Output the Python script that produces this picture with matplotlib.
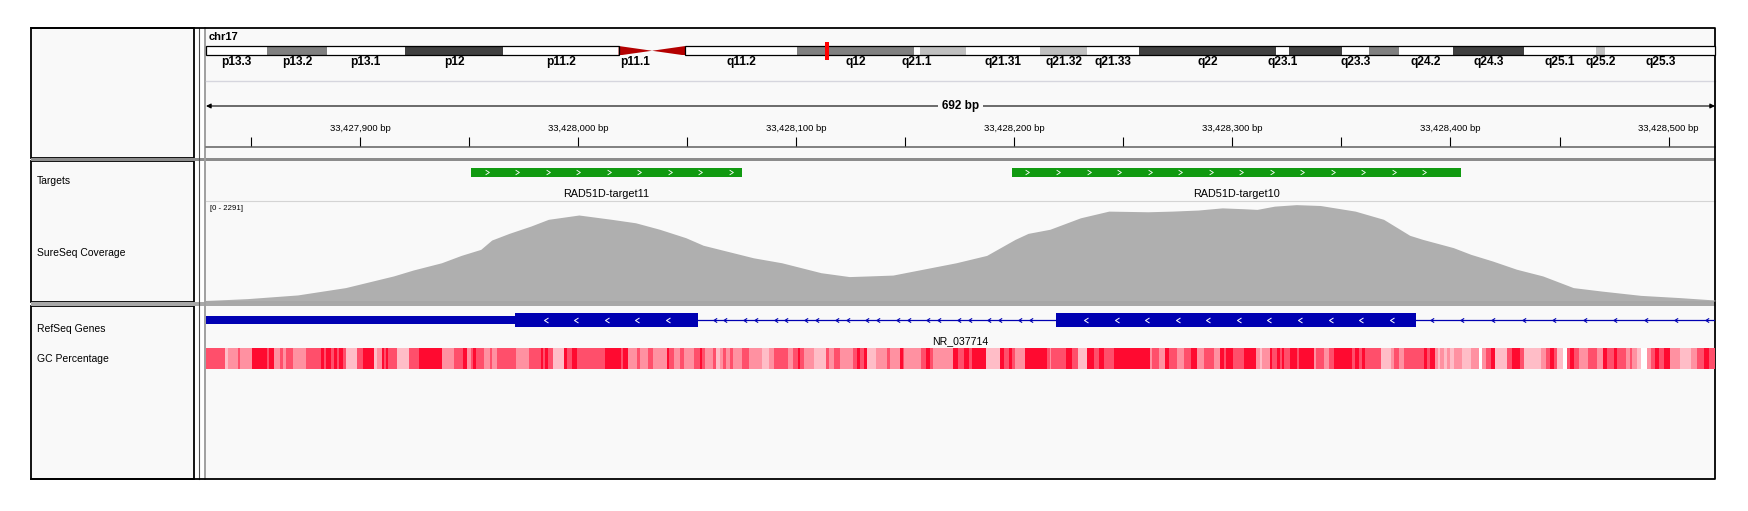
import matplotlib
matplotlib.use("Agg")
import matplotlib.pyplot as plt
import numpy as np
from matplotlib.colors import LinearSegmentedColormap, Normalize
from matplotlib.patches import Rectangle, Polygon
from matplotlib.path import Path
from matplotlib.transforms import blended_transform_factory

plt.rcParams["font.family"] = ["Liberation Sans", "DejaVu Sans"]

W, H = 1749, 511

# current view
CHROM = "chr17"
START = 33427829.3
END = 33428521.3
CHROM_LEN = 81195210

# chr17 cytobands (Mb)
band_names = ["p13.3", "p13.2", "p13.1", "p12", "p11.2", "p11.1", "q11.1", "q11.2",
              "q12", "q21.1", "q21.2", "q21.31", "q21.32", "q21.33", "q22", "q23.1",
              "q23.2", "q23.3", "q24.1", "q24.2", "q24.3", "q25.1", "q25.2", "q25.3"]
band_start = [0, 3.3, 6.5, 10.7, 16.0, 22.2, 24.0, 25.8, 31.8, 38.1, 38.4, 40.9,
              44.9, 47.4, 50.2, 57.6, 58.3, 61.1, 62.6, 64.2, 67.1, 70.9, 74.8, 75.3]
band_end = [3.3, 6.5, 10.7, 16.0, 22.2, 24.0, 25.8, 31.8, 38.1, 38.4, 40.9, 44.9,
            47.4, 50.2, 57.6, 58.3, 61.1, 62.6, 64.2, 67.1, 70.9, 74.8, 75.3, 81.195]
band_stain = ["gneg", "gpos50", "gneg", "gpos75", "gneg", "acen", "acen", "gneg",
              "gpos50", "gneg", "gpos25", "gneg", "gpos25", "gneg", "gpos75", "gneg",
              "gpos75", "gneg", "gpos50", "gneg", "gpos75", "gneg", "gpos25", "gneg"]
band_hidden_labels = ["q11.1", "q21.2", "q23.2", "q24.1"]

# targets
target_names = ["RAD51D-target11", "RAD51D-target10"]
target_start = [33427951, 33428199]
target_end = [33428075, 33428405]

# coverage (offset from view start in bp, read depth)
COV_MAX = 2291
cov_offset = [0, 2, 19, 42, 64, 86, 95, 108, 117, 126,
              131, 139, 149, 157, 171, 186, 197, 208, 220, 228,
              251, 264, 282, 295, 304, 315, 344, 358, 371, 377,
              387, 401, 414, 432, 443, 455, 466, 476, 482, 490,
              500, 511, 527, 540, 552, 558, 572, 580, 590, 601,
              613, 627, 640, 658, 676, 692]
cov_depth = [12, 16, 55, 140, 310, 580, 717, 885, 1055, 1195,
             1410, 1565, 1735, 1890, 1990, 1890, 1810, 1660, 1465, 1290,
             1000, 885, 655, 565, 580, 600, 885, 1055, 1425, 1565,
             1660, 1925, 2080, 2065, 2080, 2105, 2155, 2135, 2120, 2195,
             2230, 2210, 2080, 1890, 1520, 1425, 1235, 1080, 925, 735,
             580, 310, 230, 130, 78, 23]

# RefSeq gene
gene_name = "NR_037714"
gene_start, gene_end = 33427600, 33428700
block_start = [33427600, 33427971, 33428219]
block_end = [33427971, 33428055, 33428384]
block_kind = ["utr", "exon", "exon"]

# GC percentage (segment start offset in bp, percent; 0 = no data)
gc_offset = [0, 8.7, 10.2, 14.8, 15.6, 20.9, 27.8, 29.0, 31.2, 33.9,
             35.5, 36.7, 39.8, 45.9, 52.6, 54.1, 55.0, 57.2, 58.7, 59.9,
             61.2, 63.0, 64.2, 69.1, 72.2, 77.1, 78.3, 80.6, 81.7, 82.6,
             83.6, 87.5, 93.3, 97.9, 108.1, 113.8, 118.0, 119.6, 121.4, 122.3,
             123.9, 127.5, 130.3, 131.0, 133.3, 142.2, 147.9, 153.5, 154.4, 155.5,
             157.0, 159.3, 164.2, 165.4, 167.7, 170.0, 183.0, 190.2, 191.1, 193.7,
             197.6, 199.1, 202.9, 205.2, 211.3, 212.5, 214.4, 217.4, 219.0, 223.6,
             226.6, 227.4, 228.9, 232.7, 234.0, 235.5, 237.3, 238.5, 240.1, 241.6,
             245.7, 249.2, 254.9, 258.0, 260.6, 267.1, 269.1, 271.3, 272.2, 274.3,
             278.9, 284.4, 285.9, 288.1, 290.8, 296.6, 298.5, 300.0, 301.8, 303.1,
             307.3, 312.2, 313.8, 318.1, 319.6, 320.3, 328.0, 330.3, 332.1, 333.3,
             342.5, 344.7, 347.4, 349.7, 351.2, 357.8, 363.9, 365.8, 368.1, 369.6,
             371.1, 375.7, 385.6, 386.9, 387.5, 394.2, 397.1, 399.7, 404.0, 407.0,
             409.3, 411.6, 416.5, 432.7, 433.8, 436.9, 439.9, 441.4, 445.3, 448.3,
             451.7, 454.4, 457.5, 462.1, 464.9, 466.7, 467.9, 471.0, 475.9, 481.7,
             483.2, 484.3, 488.1, 488.9, 491.2, 492.7, 493.5, 494.5, 497.0, 500.4,
             501.1, 508.0, 509.2, 512.6, 514.9, 517.5, 525.6, 527.1, 528.6, 530.2,
             531.7, 538.9, 543.2, 545.0, 547.0, 549.6, 558.5, 560.0, 561.5, 563.4,
             564.9, 566.1, 567.6, 569.2, 570.4, 572.2, 576.0, 579.9, 583.7, 585.2,
             587.2, 589.3, 590.9, 596.7, 599.0, 602.5, 604.3, 612.0, 614.3, 616.3,
             618.1, 619.6, 622.4, 624.2, 625.7, 627.3, 629.6, 633.7, 638.0, 640.7,
             642.6, 645.6, 647.1, 651.0, 653.0, 654.0, 656.3, 658.2, 660.6, 662.7,
             664.7, 666.3, 668.6, 671.3, 675.9, 680.8, 683.8, 686.9, 689.2]
gc_pct = [63, 39, 51, 63, 51, 76, 63, 76, 51, 63,
          51, 63, 51, 63, 76, 63, 76, 63, 76, 63,
          76, 63, 39, 63, 76, 39, 51, 76, 63, 76,
          63, 39, 63, 76, 51, 63, 76, 51, 63, 76,
          63, 51, 63, 51, 63, 51, 63, 76, 63, 76,
          63, 39, 76, 63, 76, 63, 76, 63, 76, 51,
          63, 51, 63, 51, 76, 63, 51, 63, 51, 63,
          76, 63, 51, 63, 39, 51, 63, 51, 63, 51,
          63, 51, 39, 51, 63, 51, 63, 76, 63, 51,
          39, 63, 51, 63, 51, 63, 76, 63, 76, 39,
          51, 63, 51, 76, 63, 51, 63, 76, 63, 51,
          76, 63, 76, 63, 76, 39, 76, 63, 76, 63,
          51, 76, 63, 51, 63, 76, 63, 39, 76, 63,
          76, 63, 76, 51, 63, 51, 76, 63, 51, 63,
          76, 51, 63, 51, 76, 63, 76, 63, 76, 51,
          39, 51, 76, 63, 76, 63, 76, 63, 76, 63,
          76, 51, 63, 51, 63, 76, 63, 76, 63, 76,
          63, 39, 51, 63, 51, 63, 76, 63, 76, 51,
          39, 51, 39, 51, 39, 51, 39, 51, 0, 51,
          63, 76, 39, 63, 76, 63, 39, 51, 63, 76,
          63, 39, 0, 63, 76, 63, 51, 63, 51, 76,
          63, 76, 63, 51, 63, 51, 39, 0, 51, 63,
          76, 63, 76, 51, 39, 51, 63, 76, 63]

BG = "#f9f9f9"
BLUE = "#0000b2"
GREEN = "#119a11"
stain_color = {"gneg": "white", "gpos25": "#c0c0c0", "gpos50": "#808080", "gpos75": "#404040"}

fig = plt.figure(figsize=(W / 100, H / 100), dpi=100)


def px_axes(x0, y0, x1, y1):
    ax = fig.add_axes([x0 / W, 1 - y1 / H, (x1 - x0) / W, (y1 - y0) / H])
    ax.set_axis_off()
    ax.patch.set_visible(False)
    return ax


# frame / panels in pixel coordinates
bg = px_axes(0, 0, W, H)
bg.set_xlim(0, W)
bg.set_ylim(H, 0)
bg.add_patch(Rectangle((206, 28), 1509, 451, fc=BG, ec="none"))
for y0, y1 in [(28, 158.5), (161.5, 302), (306.5, 479)]:
    bg.add_patch(Rectangle((31.5, y0), 162.5, y1 - y0, fc=BG, ec="black", lw=1.3))
bg.add_patch(Rectangle((31, 158.5), 1684, 3, fc="#8c8c8c", ec="none"))
bg.add_patch(Rectangle((31, 302.5), 1684, 3.5, fc="#a8a8a8", ec="none"))
bg.plot([199.5, 199.5], [28, 479], color="#505050", lw=0.8)
bg.plot([205.5, 205.5], [28, 479], color="#a0a0a0", lw=1.4)
bg.plot([206, 1715], [81, 81], color="#d6d6de", lw=1.0)
bg.plot([206, 1715], [147.5, 147.5], color="#808080", lw=1.4)
bg.plot([206, 1715], [201, 201], color="#d4d4d4", lw=0.8)
bg.plot([206, 1715], [301, 301], color="#a0a0a0", lw=0.8)
bg.plot([31, 1715, 1715, 31], [28, 28, 479, 479], color="black", lw=1.3)

bg.text(209, 36.5, CHROM, fontsize=8, fontweight="bold", va="center", ha="left")
for label, y in [("Targets", 181.5), ("SureSeq Coverage", 252.5),
                 ("RefSeq Genes", 328.5), ("GC Percentage", 359)]:
    bg.text(37, y, label, fontsize=7.5, va="center", ha="left")
bg.text(210.5, 209, f"[0 - {COV_MAX}]", fontsize=5.6, va="center", ha="left")

# ideogram
ideo = px_axes(206, 46, 1715, 55.5)
ideo.set_xlim(0, CHROM_LEN)
ideo.set_ylim(0, 1)
lab_tr = blended_transform_factory(ideo.transData, bg.transData)
for name, s, e, st in zip(band_names, band_start, band_end, band_stain):
    s, e = s * 1e6, e * 1e6
    if st == "acen":
        if name.startswith("p"):
            tri = [(s, 0), (s, 1), (e, 0.5)]
        else:
            tri = [(e, 0), (e, 1), (s, 0.5)]
        ideo.add_patch(Polygon(tri, closed=True, fc="#b40000", ec="none"))
    else:
        ideo.bar(s, 1, width=e - s, bottom=0, align="edge", color=stain_color[st], lw=0)
    if name not in band_hidden_labels:
        ideo.text((s + e) / 2, 61.5, name, transform=lab_tr, fontsize=8.6,
                  fontweight="bold", ha="center", va="center", clip_on=False)
p_end = band_start[band_stain.index("acen")] * 1e6
q_start = band_end[len(band_stain) - 1 - band_stain[::-1].index("acen")] * 1e6
ideo.add_patch(Rectangle((0, 0), p_end, 1, fc="none", ec="black", lw=0.9, clip_on=False))
ideo.add_patch(Rectangle((q_start, 0), CHROM_LEN - q_start, 1, fc="none", ec="black",
                         lw=0.9, clip_on=False))
view_mid = (START + END) / 2
ideo.bar(view_mid, 1.9, width=CHROM_LEN * 4 / 1509, bottom=-0.45, color="red", lw=0,
         clip_on=False)

# tracks in bp (x) and pixel layout (y)
trk = px_axes(206, 28, 1715, 479)
trk.set_xlim(START, END)
trk.set_ylim(479, 28)

# ruler
trk.annotate("", xy=(START, 106), xytext=(END, 106),
             arrowprops=dict(arrowstyle="<|-|>", color="black", lw=0.8,
                             mutation_scale=7, shrinkA=0, shrinkB=0))
trk.text(view_mid, 106, f"{round(END - START)} bp", fontsize=8.5, fontweight="bold",
         ha="center", va="center",
         bbox=dict(boxstyle="square,pad=0.35", fc=BG, ec="none"))
ticks = np.arange(np.ceil(START / 50) * 50, END, 50)
trk.vlines(ticks, 137, 146, color="black", lw=0.8)
for t in ticks:
    if int(t) % 100 == 0:
        trk.text(t, 128.5, f"{int(t):,} bp", fontsize=6.8, ha="center", va="center")

chev_left = Path([(0.4, 0.5), (-0.4, 0), (0.4, -0.5)], [Path.MOVETO, Path.LINETO, Path.LINETO])
chev_right = Path([(-0.4, 0.5), (0.4, 0), (-0.4, -0.5)], [Path.MOVETO, Path.LINETO, Path.LINETO])

# targets
trk.bar(target_start, 9, width=np.subtract(target_end, target_start), bottom=168,
        align="edge", color=GREEN, lw=0)
for name, s, e in zip(target_names, target_start, target_end):
    xs = np.arange(s + 7, e - 4, 14)
    trk.plot(xs, np.full(len(xs), 172.5), ls="none", marker=chev_right, ms=3.4,
             mec="white", mfc="none", mew=0.6)
    trk.text((s + e) / 2, 194, name, fontsize=7.8, ha="center", va="center")

# gene model
trk.hlines(320, gene_start, gene_end, color=BLUE, lw=0.9)
for s, e, kind in zip(block_start, block_end, block_kind):
    if kind == "utr":
        trk.bar(s, 7.5, width=e - s, bottom=316, align="edge", color=BLUE, lw=0)
    else:
        trk.bar(s, 14.5, width=e - s, bottom=312.5, align="edge", color=BLUE, lw=0)
        xs = np.arange(s + 14, e - 7, 14)
        trk.plot(xs, np.full(len(xs), 320), ls="none", marker=chev_left, ms=3.6,
                 mec="white", mfc="none", mew=0.7)
exon_starts = [s for s, k in zip(block_start, block_kind) if k == "exon"]
exon_ends = [e for e, k in zip(block_end, block_kind) if k == "exon"]
intron_s = exon_ends
intron_e = exon_starts[1:] + [gene_end]
for i, (s, e) in enumerate(zip(intron_s, intron_e)):
    offs = [7.5, 12.5] if i < len(intron_s) - 1 else [7.5]
    for o in offs:
        xs = np.arange(s + o, e - 3, 14)
        trk.plot(xs, np.full(len(xs), 320), ls="none", marker=chev_left, ms=3.0,
                 mec=BLUE, mfc="none", mew=0.8)
trk.text(view_mid, 341, gene_name, fontsize=7.6, ha="center", va="center")

# GC percentage
gc_cmap = LinearSegmentedColormap.from_list(
    "gc", [(0.0, "#ffc2cb"), (0.2, "#ffbac4"), (0.45, "#ff8294"),
           (0.7, "#ff4563"), (1.0, "#ff0028")])
gc_norm = Normalize(34, 78)
gc_x = START + np.array(gc_offset)
gc_w = np.diff(np.append(gc_offset, END - START))
gc_colors = [gc_cmap(gc_norm(v)) if v > 0 else (1, 1, 1, 1) for v in gc_pct]
trk.bar(gc_x, 20.5, width=gc_w, bottom=348, align="edge", color=gc_colors, lw=0)

# coverage
cov = px_axes(206, 202, 1715, 301)
cov.set_xlim(START, END)
cov.set_ylim(0, COV_MAX)
cov.fill_between(START + np.array(cov_offset), cov_depth, color="#afafaf", lw=0)

fig.savefig("out.png", dpi=100, facecolor="white")
